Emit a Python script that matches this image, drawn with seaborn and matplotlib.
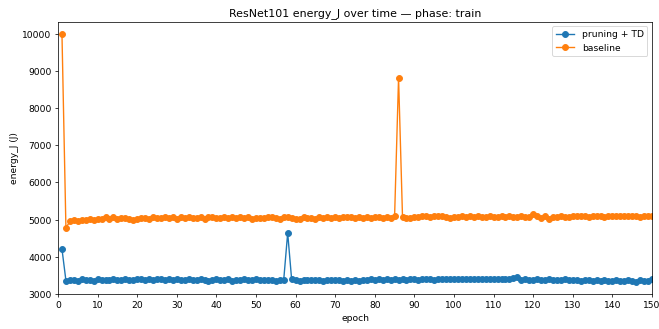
import matplotlib
matplotlib.use("Agg")
import matplotlib.pyplot as plt
import seaborn as sns
import pandas as pd
import numpy as np

epochs = list(range(1, 151))

baseline = [
    10000, 4780, 4950, 4980, 4970, 5000, 4990, 5010, 5000, 5020,
    5010, 5070, 5030, 5060, 5020, 5050, 5040, 5030, 4990, 5030,
    5040, 5050, 5030, 5060, 5050, 5040, 5060, 5050, 5070, 5030,
    5060, 5040, 5070, 5050, 5040, 5060, 5030, 5070, 5060, 5050,
    5040, 5060, 5050, 5060, 5040, 5070, 5050, 5060, 5030, 5040,
    5050, 5040, 5070, 5060, 5050, 5030, 5070, 5060, 5050, 5020,
    5030, 5060, 5040, 5050, 5030, 5060, 5050, 5070, 5040, 5060,
    5050, 5080, 5060, 5070, 5050, 5060, 5040, 5080, 5050, 5060,
    5070, 5050, 5060, 5040, 5090, 8820, 5060, 5050, 5040, 5060,
    5080, 5090, 5100, 5080, 5110, 5090, 5100, 5070, 5040, 5080,
    5060, 5090, 5070, 5100, 5060, 5090, 5080, 5070, 5090, 5060,
    5080, 5100, 5070, 5090, 5080, 5060, 5090, 5080, 5070, 5140,
    5090, 5040, 5090, 5020, 5080, 5070, 5090, 5080, 5060, 5110,
    5100, 5090, 5100, 5080, 5110, 5090, 5100, 5060, 5090, 5100,
    5090, 5110, 5090, 5100, 5090, 5100, 5080, 5110, 5090, 5100,
]

pruning_td = [
    4210, 3360, 3370, 3380, 3360, 3390, 3370, 3380, 3360, 3390,
    3370, 3380, 3370, 3390, 3380, 3370, 3400, 3380, 3370, 3390,
    3400, 3380, 3390, 3380, 3410, 3390, 3380, 3390, 3370, 3390,
    3380, 3370, 3390, 3380, 3370, 3390, 3380, 3360, 3380, 3390,
    3380, 3370, 3390, 3350, 3370, 3380, 3390, 3380, 3370, 3390,
    3380, 3370, 3380, 3370, 3360, 3370, 3380, 4640, 3390, 3370,
    3360, 3370, 3380, 3370, 3380, 3370, 3360, 3380, 3370, 3380,
    3370, 3360, 3370, 3350, 3370, 3340, 3370, 3380, 3390, 3380,
    3390, 3380, 3390, 3380, 3390, 3380, 3390, 3380, 3400, 3390,
    3380, 3390, 3400, 3390, 3380, 3390, 3400, 3390, 3410, 3400,
    3390, 3410, 3400, 3390, 3400, 3410, 3390, 3400, 3390, 3410,
    3400, 3390, 3410, 3400, 3420, 3450, 3380, 3390, 3380, 3370,
    3390, 3380, 3370, 3390, 3380, 3370, 3380, 3390, 3370, 3380,
    3370, 3360, 3380, 3370, 3360, 3370, 3360, 3370, 3360, 3350,
    3370, 3360, 3350, 3370, 3360, 3330, 3370, 3350, 3360, 3400,
]

series_names = ["pruning + TD", "baseline"]
colors = ["#1f77b4", "#ff7f0e"]

df = pd.DataFrame({
    "epoch": epochs * 2,
    "energy_J": pruning_td + baseline,
    "variant": [series_names[0]] * len(epochs) + [series_names[1]] * len(epochs),
})

fig, ax = plt.subplots(figsize=(10, 5), dpi=65.9)

for name, col in zip(series_names, colors):
    sub = df[df["variant"] == name]
    sns.lineplot(data=sub, x="epoch", y="energy_J", ax=ax, color=col,
                 marker="o", markersize=6.5, markeredgecolor=col,
                 markeredgewidth=1, linewidth=1.5, label=name)

ax.set_xlim(0, 150)
ax.set_ylim(3000, 10330)
ax.set_xticks(np.arange(0, 151, 10))
ax.set_yticks(np.arange(3000, 10001, 1000))
ax.set_xlabel("epoch")
ax.set_ylabel("energy_J (J)")
ax.set_title("ResNet101 energy_J over time — phase: train")
ax.legend(loc="upper right")

fig.subplots_adjust(left=58 / 659, right=652 / 659, top=1 - 22 / 329, bottom=1 - 294 / 329)
fig.savefig("out.png", dpi=65.9)
